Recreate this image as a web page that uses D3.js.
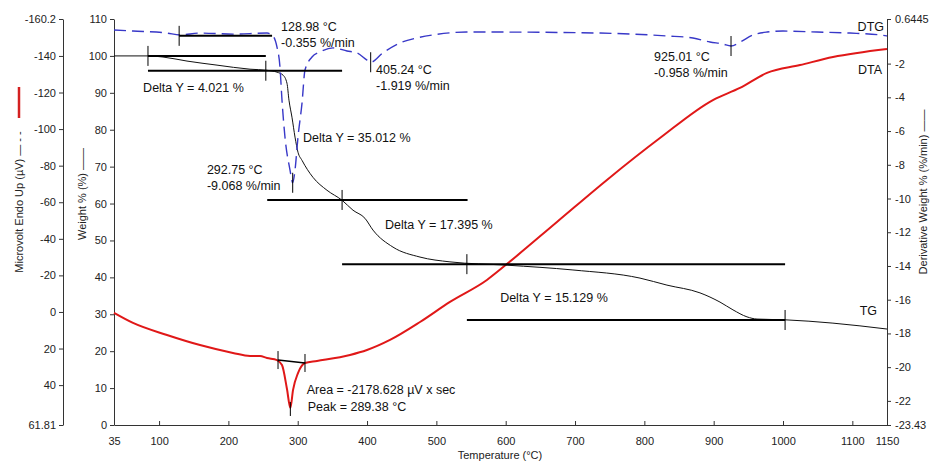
<!DOCTYPE html>
<html>
<head>
<meta charset="utf-8">
<style>
  body { margin: 0; background: #fff; }
  svg { font-family: Arial, "Liberation Sans", sans-serif; }
  .axis text { font-size: 11px; fill: #222; }
  .axis path, .axis line { stroke: #333; }
  .note { font-size: 12.5px; fill: #111; }
  .title { font-size: 11px; fill: #222; }
</style>
</head>
<body>
<svg width="931" height="462"></svg>
<script src="https://cdnjs.cloudflare.com/ajax/libs/d3/7.8.5/d3.min.js"></script>
<script>
// ---- data ----
const xTicks = [35, 100, 200, 300, 400, 500, 600, 700, 800, 900, 1000, 1100, 1150];
const wTicks = [0, 10, 20, 30, 40, 50, 60, 70, 80, 90, 100, 110];
const vTicks = [-160.2, -140, -120, -100, -80, -60, -40, -20, 0, 20, 40, 61.81];
const dTicks = [0.6445, -2, -4, -6, -8, -10, -12, -14, -16, -18, -20, -22, -23.43];

// TG (weight %)
const tgT = [35, 84, 105.7, 140.3, 183.6, 231.2, 255.7, 270.1, 278.8, 284.5, 287.4, 291.7, 296.1, 300.4, 306.2, 322, 342.2, 363.9, 379.7, 397, 408.6, 437.4, 476.4, 519.6, 601.9, 697, 793.7, 832.6, 880.2, 909.1, 927.8, 948, 962.5, 1002.8, 1072, 1150];
const tgW = [100, 100, 99.7, 98.6, 97.5, 96.4, 96.1, 95.6, 94.8, 92.6, 88.0, 83.4, 78.0, 73.9, 71.7, 67.1, 63.6, 60.9, 58.2, 56.0, 52.8, 48.2, 45.5, 44.2, 43.3, 42.0, 39.8, 37.9, 35.8, 33.3, 31.2, 29.3, 28.7, 28.5, 27.6, 26.0];

// DTG (%/min)
const dtgT = [35, 62.4, 111.4, 130.2, 159, 206.6, 255.7, 262.9, 270.1, 274.4, 277.3, 281.6, 288.9, 292.75, 296.1, 300.4, 306.2, 310.5, 320.6, 332.1, 350.9, 371.1, 385.5, 399.9, 405.24, 422.6, 447.1, 471.6, 494.7, 543.7, 581.7, 736, 783.6, 832.6, 870.1, 894.6, 913.4, 925.01, 938.3, 957, 977, 1000, 1049, 1096.6, 1139.9, 1150];
const dtgD = [-0.01, -0.07, -0.19, -0.3, -0.19, -0.25, -0.19, -0.3, -1.02, -2.2, -4.16, -6.35, -8.31, -9.068, -8.31, -6.35, -4.34, -2.38, -1.61, -1.31, -1.07, -1.25, -1.37, -1.79, -1.919, -1.37, -0.78, -0.48, -0.3, -0.13, -0.13, -0.19, -0.25, -0.36, -0.48, -0.72, -0.84, -0.958, -0.72, -0.3, -0.13, -0.07, -0.13, -0.19, -0.3, -0.36];

// DTA (microvolt)
const dtaT = [35, 62.4, 111.4, 159, 206.6, 231.2, 245.6, 255.7, 270.1, 277.3, 284.5, 289.38, 293.2, 300.4, 310.5, 327.8, 375.4, 399.9, 433.1, 476.4, 519.6, 572.9, 601.7, 673.9, 746, 822.5, 898.9, 937.9, 976.9, 1024.5, 1072.1, 1150];
const dtaV = [0.5, 6.0, 12.6, 18.1, 22.4, 24.1, 24.1, 25.2, 26.3, 29.0, 42.1, 52.5, 42.7, 33.4, 27.9, 26.8, 23.5, 20.8, 15.3, 5.5, -5.5, -17.5, -26.2, -49.2, -72.2, -95.1, -115.9, -122.5, -130.7, -135.0, -139.4, -143.8];

// step analysis on TG
const tgSteps = [
  { w: 100, from: 84, to: 254 },
  { w: 95.98, from: 84, to: 364 },
  { w: 60.97, from: 256, to: 545 },
  { w: 43.58, from: 364, to: 1003 },
  { w: 28.45, from: 544, to: 1003 }
];
const tgMarks = [
  { t: 84, w: 100 }, { t: 254, w: 95.98 }, { t: 364, w: 60.97 }, { t: 544, w: 43.58 }, { t: 1003, w: 28.45 }
];
const tgNotes = [
  { text: "Delta Y = 4.021 %", t: 77, w: 90.2 },
  { text: "Delta Y = 35.012 %", t: 307.6, w: 76.7 },
  { text: "Delta Y = 17.395 %", t: 426, w: 53.1 },
  { text: "Delta Y = 15.129 %", t: 592, w: 33.3 }
];

// DTG peaks
const dtgPeaks = [
  { t: 128.98, d: -0.355 }, { t: 292.75, d: -9.068 }, { t: 405.24, d: -1.919 }, { t: 925.01, d: -0.958 }
];
const dtgOnset = { from: 128.98, to: 263, d: -0.355 };
const dtgNotes = [
  { lines: ["128.98 °C", "-0.355 %/min"], t: 276, d: -0.067 },
  { lines: ["405.24 °C", "-1.919 %/min"], t: 413, d: -2.617 },
  { lines: ["292.75 °C", "-9.068 %/min"], t: 169, d: -8.547 },
  { lines: ["925.01 °C", "-0.958 %/min"], t: 814, d: -1.846 }
];

// DTA peak
const dtaBase = [{ t: 271.6, v: 26.3 }, { t: 310.5, v: 27.9 }];
const dtaPeak = { t: 289.38, v: 52.5 };
const dtaNotes = ["Area = -2178.628 µV x sec", "Peak = 289.38 °C"];
const dtaNoteAt = { t: 313, v: 44.85 };

// ---- chart ----
const svg = d3.select("svg");
const plotL = 114, plotR = 887, plotT = 19, plotB = 425;

const x = d3.scaleLinear().domain([35, 1150]).range([plotL, plotR]);
const yW = d3.scaleLinear().domain([0, 110]).range([plotB, plotT]);
const yV = d3.scaleLinear().domain([61.81, -160.2]).range([plotB, plotT]);
const yD = d3.scaleLinear().domain([-23.43, 0.6445]).range([plotB, plotT]);

const fmt = d => String(d);

svg.append("g").attr("class", "axis")
  .attr("transform", `translate(0,${plotB})`)
  .call(d3.axisBottom(x).tickValues(xTicks).tickFormat(fmt).tickSize(-4).tickSizeOuter(0).tickPadding(12));

svg.append("g").attr("class", "axis")
  .attr("transform", `translate(${plotL},0)`)
  .call(d3.axisLeft(yW).tickValues(wTicks).tickFormat(fmt).tickSize(4).tickSizeOuter(0).tickPadding(3));

svg.append("g").attr("class", "axis")
  .attr("transform", "translate(63,0)")
  .call(d3.axisLeft(yV).tickValues(vTicks).tickFormat(fmt).tickSize(4).tickSizeOuter(0).tickPadding(3));

svg.append("g").attr("class", "axis")
  .attr("transform", `translate(${plotR},0)`)
  .call(d3.axisRight(yD).tickValues(dTicks).tickFormat(fmt).tickSize(4).tickSizeOuter(0).tickPadding(4));

// axis titles
svg.append("text").attr("class", "title")
  .attr("transform", "translate(23,202) rotate(-90)")
  .style("text-anchor", "middle")
  .text("Microvolt Endo Up (µV) — - -");
svg.append("line")
  .attr("x1", 19).attr("x2", 19).attr("y1", 87).attr("y2", 118)
  .style("stroke", "#d42020").style("stroke-width", 2.5);
svg.append("text").attr("class", "title")
  .attr("transform", "translate(86,194) rotate(-90)")
  .style("text-anchor", "middle")
  .text("Weight % (%) ——");
svg.append("text").attr("class", "title")
  .attr("transform", "translate(927,192) rotate(-90)")
  .style("text-anchor", "middle")
  .text("Derivative Weight % (%/min) ——");
svg.append("text").attr("class", "title")
  .attr("x", 500).attr("y", 459)
  .style("text-anchor", "middle")
  .text("Temperature (°C)");

// curves
const lineOf = (ts, vs, ys) => d3.line().curve(d3.curveMonotoneX)
  .x((d, i) => x(ts[i])).y((d, i) => ys(vs[i]))(ts);

svg.append("path")
  .attr("d", lineOf(dtaT, dtaV, yV))
  .style("fill", "none").style("stroke", "#e01818").style("stroke-width", 2);

svg.append("path")
  .attr("d", lineOf(tgT, tgW, yW))
  .style("fill", "none").style("stroke", "#111").style("stroke-width", 1);

svg.append("path")
  .attr("d", lineOf(dtgT, dtgD, yD))
  .style("fill", "none").style("stroke", "#3838c8").style("stroke-width", 1.4)
  .style("stroke-dasharray", "12,6");

// TG step analysis
svg.append("g").selectAll("line").data(tgSteps).join("line")
  .attr("x1", d => x(d.from)).attr("x2", d => x(d.to))
  .attr("y1", d => yW(d.w)).attr("y2", d => yW(d.w))
  .style("stroke", "#000").style("stroke-width", 2);
svg.append("g").selectAll("line").data(tgMarks).join("line")
  .attr("x1", d => x(d.t)).attr("x2", d => x(d.t))
  .attr("y1", d => yW(d.w) - 10).attr("y2", d => yW(d.w) + 10)
  .style("stroke", "#000").style("stroke-width", 1);
svg.append("g").selectAll("text").data(tgNotes).join("text")
  .attr("class", "note")
  .attr("x", d => x(d.t)).attr("y", d => yW(d.w))
  .text(d => d.text);

// DTG peaks
svg.append("line")
  .attr("x1", x(dtgOnset.from)).attr("x2", x(dtgOnset.to))
  .attr("y1", yD(dtgOnset.d)).attr("y2", yD(dtgOnset.d))
  .style("stroke", "#000").style("stroke-width", 2);
svg.append("g").selectAll("line").data(dtgPeaks).join("line")
  .attr("x1", d => x(d.t)).attr("x2", d => x(d.t))
  .attr("y1", d => yD(d.d) - 10).attr("y2", d => yD(d.d) + 10)
  .style("stroke", "#000").style("stroke-width", 1);
const dn = svg.append("g").selectAll("text").data(dtgNotes).join("text")
  .attr("class", "note")
  .attr("x", d => x(d.t)).attr("y", d => yD(d.d));
dn.selectAll("tspan").data(d => d.lines.map(l => ({ l, t: d.t }))).join("tspan")
  .attr("x", d => x(d.t)).attr("dy", (d, i) => i ? 16 : 0)
  .text(d => d.l);

// DTA peak
svg.append("line")
  .attr("x1", x(dtaBase[0].t)).attr("x2", x(dtaBase[1].t))
  .attr("y1", yV(dtaBase[0].v)).attr("y2", yV(dtaBase[1].v))
  .style("stroke", "#000").style("stroke-width", 1.5);
svg.append("g").selectAll("line").data(dtaBase).join("line")
  .attr("x1", d => x(d.t)).attr("x2", d => x(d.t))
  .attr("y1", d => yV(d.v) - 9).attr("y2", d => yV(d.v) + 9)
  .style("stroke", "#000").style("stroke-width", 1);
svg.append("line")
  .attr("x1", x(dtaPeak.t)).attr("x2", x(dtaPeak.t))
  .attr("y1", yV(dtaPeak.v) - 6).attr("y2", yV(dtaPeak.v) + 8)
  .style("stroke", "#000").style("stroke-width", 1);
svg.append("g").selectAll("text").data(dtaNotes).join("text")
  .attr("class", "note")
  .attr("x", (d, i) => x(dtaNoteAt.t) + i * 1)
  .attr("y", (d, i) => yV(dtaNoteAt.v) + i * 17)
  .text(d => d);

// series names
svg.append("text").attr("class", "note")
  .attr("x", x(1150) - 3).attr("y", yD(-0.067)).style("text-anchor", "end").text("DTG");
svg.append("text").attr("class", "note")
  .attr("x", x(1150) - 5).attr("y", yV(-130.1)).style("text-anchor", "end").text("DTA");
svg.append("text").attr("class", "note")
  .attr("x", x(1150) - 10).attr("y", yW(29.8)).style("text-anchor", "end").text("TG");
</script>
</body>
</html>
